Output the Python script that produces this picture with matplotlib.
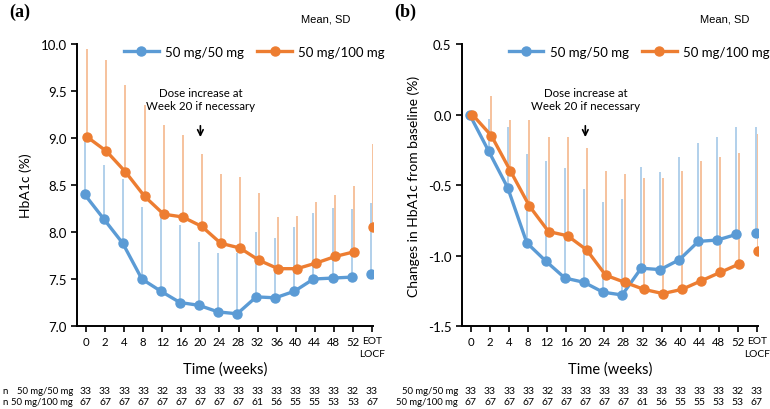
import numpy as np
import matplotlib
matplotlib.use("Agg")
import matplotlib.pyplot as plt

plt.rcParams["font.family"] = ["Lato", "DejaVu Sans"]
plt.rcParams["axes.unicode_minus"] = False

weeks = ["0", "2", "4", "8", "12", "16", "20", "24", "28", "32", "36", "40",
         "44", "48", "52", "EOT\nLOCF"]

# (a) HbA1c, mean and SD
a_blue_mean = [8.40, 8.14, 7.88, 7.50, 7.37, 7.25, 7.22, 7.15, 7.13, 7.31, 7.30, 7.37,
               7.50, 7.51, 7.52, 7.55]
a_blue_sd = [0.59, 0.57, 0.68, 0.77, 0.84, 0.82, 0.67, 0.63, 0.65, 0.69, 0.64, 0.68,
             0.70, 0.75, 0.72, 0.76]
a_orange_mean = [9.01, 8.86, 8.64, 8.38, 8.19, 8.16, 8.06, 7.88, 7.83, 7.70, 7.61, 7.61,
                 7.67, 7.74, 7.79, 8.05]
a_orange_sd = [0.94, 0.97, 0.92, 0.97, 0.95, 0.87, 0.77, 0.74, 0.76, 0.72, 0.55, 0.56,
               0.65, 0.65, 0.70, 0.89]

# (b) change from baseline, mean and SD
b_blue_mean = [0.0, -0.26, -0.52, -0.91, -1.04, -1.16, -1.19, -1.26, -1.28, -1.09, -1.10,
               -1.03, -0.90, -0.89, -0.85, -0.84]
b_blue_sd = [0.0, 0.23, 0.43, 0.63, 0.71, 0.78, 0.66, 0.64, 0.68, 0.72, 0.69, 0.73,
             0.70, 0.73, 0.76, 0.75]
b_orange_mean = [0.0, -0.15, -0.40, -0.65, -0.83, -0.86, -0.96, -1.14, -1.19, -1.24, -1.27,
                 -1.24, -1.18, -1.12, -1.06, -0.97]
b_orange_sd = [0.0, 0.28, 0.36, 0.61, 0.67, 0.70, 0.72, 0.74, 0.77, 0.79, 0.82, 0.84,
               0.85, 0.82, 0.79, 0.83]

n_50_50 = [33, 33, 33, 33, 32, 33, 33, 33, 33, 33, 33, 33, 33, 33, 32, 33]
n_50_100 = [67, 67, 67, 67, 67, 67, 67, 67, 67, 61, 56, 55, 55, 53, 53, 67]

BLUE = "#5B9BD5"
BLUE_SD = "#9DC3E6"
ORANGE = "#ED7D31"
ORANGE_SD = "#F4B183"

fig = plt.figure(figsize=(7.7, 4.1), dpi=100)


def draw_panel(ax, blue_mean, blue_sd, orange_mean, orange_sd):
    x = np.arange(len(weeks))
    off = 0.07
    series = [
        (x - off, np.array(blue_mean), np.array(blue_sd), BLUE, BLUE_SD, "50 mg/50 mg"),
        (x + off, np.array(orange_mean), np.array(orange_sd), ORANGE, ORANGE_SD, "50 mg/100 mg"),
    ]
    for xs, m, sd, c, csd, lab in series:
        ax.vlines(xs, m, m + sd, color=csd, lw=1.1, zorder=1)
    for xs, m, sd, c, csd, lab in series:
        ax.plot(xs[:-1], m[:-1], color=c, lw=2.4, marker="o", ms=6.5, zorder=3, label=lab)
        ax.plot(xs[-1:], m[-1:], color=c, lw=0, marker="o", ms=6.5, zorder=3)
    ax.set_xlim(-0.47, 15.05)
    ax.set_xticks(x)
    ax.set_xticklabels(weeks, fontsize=8.2, linespacing=1.45)
    ax.get_xticklabels()[-1].set_fontsize(7.4)
    for s in ["top", "right"]:
        ax.spines[s].set_visible(False)
    for s in ["left", "bottom"]:
        ax.spines[s].set_linewidth(1.4)
    ax.tick_params(axis="both", length=4, width=1.2, color="black")
    ax.tick_params(axis="y", labelsize=9.5)
    ax.set_xlabel("Time (weeks)", fontsize=10.5, labelpad=3)
    ax.legend(loc="upper center", bbox_to_anchor=(0.60, 1.035), ncol=2, frameon=False,
              fontsize=9.5, handlelength=2.6, columnspacing=1.0, handletextpad=0.5)
    ax.annotate("", xy=(6, 0.66), xycoords=("data", "axes fraction"),
                xytext=(6, 0.72), textcoords=("data", "axes fraction"),
                arrowprops=dict(arrowstyle="->", color="black", lw=1.2))
    ax.text(6, 0.805, "Dose increase at\nWeek 20 if necessary", transform=ax.get_xaxis_transform(),
            ha="center", va="center", fontsize=8.3, linespacing=1.25)
    return x


ax1 = fig.add_axes([0.100, 0.2024, 0.3844, 0.6878])
x = draw_panel(ax1, a_blue_mean, a_blue_sd, a_orange_mean, a_orange_sd)
ax1.set_ylim(7.0, 10.0)
ax1.set_yticks(np.arange(7.0, 10.01, 0.5))
ax1.yaxis.set_major_formatter(matplotlib.ticker.FormatStrFormatter("%.1f"))
ax1.set_ylabel("HbA1c (%)", fontsize=10, labelpad=6)

ax2 = fig.add_axes([0.600, 0.2024, 0.3842, 0.6878])
draw_panel(ax2, b_blue_mean, b_blue_sd, b_orange_mean, b_orange_sd)
ax2.set_ylim(-1.5, 0.5)
ax2.set_yticks(np.arange(-1.5, 0.51, 0.5))
ax2.yaxis.set_major_formatter(matplotlib.ticker.FormatStrFormatter("%.1f"))
ax2.set_ylabel("Changes in HbA1c from baseline (%)", fontsize=10, labelpad=6)

for tag, lx in [("(a)", 0.012), ("(b)", 0.512)]:
    fig.text(lx, 0.970, tag, fontsize=13, fontweight="bold", family="Liberation Serif",
             va="center")

fig.text(0.455, 0.953, "Mean, SD", fontsize=8, family="Liberation Sans", ha="right", va="center")
fig.text(0.973, 0.953, "Mean, SD", fontsize=8, family="Liberation Sans", ha="right", va="center")

# n table under each panel
for ax, show_n in [(ax1, True), (ax2, False)]:
    left = ax.get_position().x0 - 0.005
    for row, (lab, vals) in enumerate([("50 mg/50 mg", n_50_50), ("50 mg/100 mg", n_50_100)]):
        yf = 0.045 - row * 0.027
        if show_n:
            fig.text(0.003, yf, "n", fontsize=7, va="center")
        fig.text(left, yf, lab, fontsize=6.8, ha="right", va="center")
        for xi, v in zip(x, vals):
            xd = fig.transFigure.inverted().transform(ax.transData.transform((xi, 0)))[0]
            fig.text(xd, yf, str(v), fontsize=7.5, ha="center", va="center")

fig.savefig("out.png", dpi=100)
